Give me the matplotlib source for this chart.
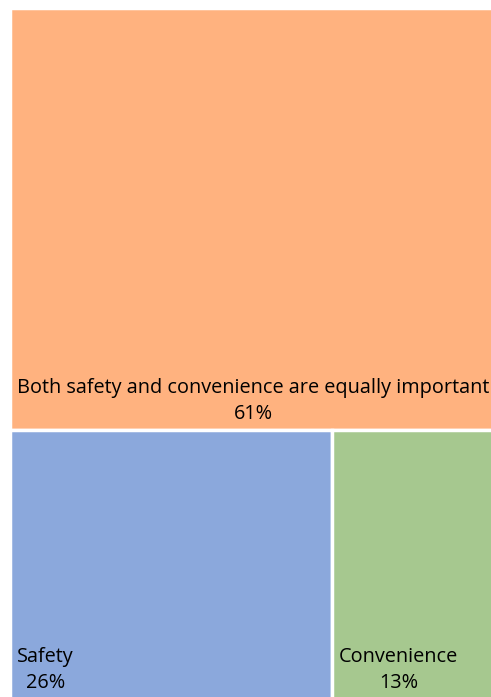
import matplotlib
matplotlib.use('Agg')
import matplotlib.pyplot as plt
from matplotlib.patches import Rectangle

labels = ['Both safety and convenience are equally important', 'Safety', 'Convenience']
values = [61, 26, 13]
colors = ['#FFB27F', '#8BA8DC', '#A6C88F']

fig = plt.figure(figsize=(4.91, 6.97), dpi=100)
# right and bottom borders fall just outside the canvas, as in the original
ax = fig.add_axes([10 / 491, -2 / 697, 483 / 491, 691 / 697])
ax.set_xlim(0, 1)
ax.set_ylim(0, 1)
ax.axis('off')

total = sum(values)
# top block spans full width, the rest split the bottom row
top_h = values[0] / total
bottom_h = 1 - top_h
rest = sum(values[1:])
rects = [(0, bottom_h, 1, top_h)]
x = 0
for v in values[1:]:
    w = v / rest
    rects.append((x, 0, w, bottom_h))
    x += w

for (x0, y0, w, h), lab, val, c in zip(rects, labels, values, colors):
    ax.add_patch(Rectangle((x0, y0), w, h, facecolor=c, edgecolor='white', linewidth=2.5))
    ax.annotate(f'{lab}\n{val}%', (x0, y0), xytext=(5, 4), textcoords='offset points',
                ha='left', va='bottom', multialignment='center',
                fontsize=14.3, family='Open Sans', color='#000000', linespacing=1.4)

fig.savefig('out.png', dpi=100)
